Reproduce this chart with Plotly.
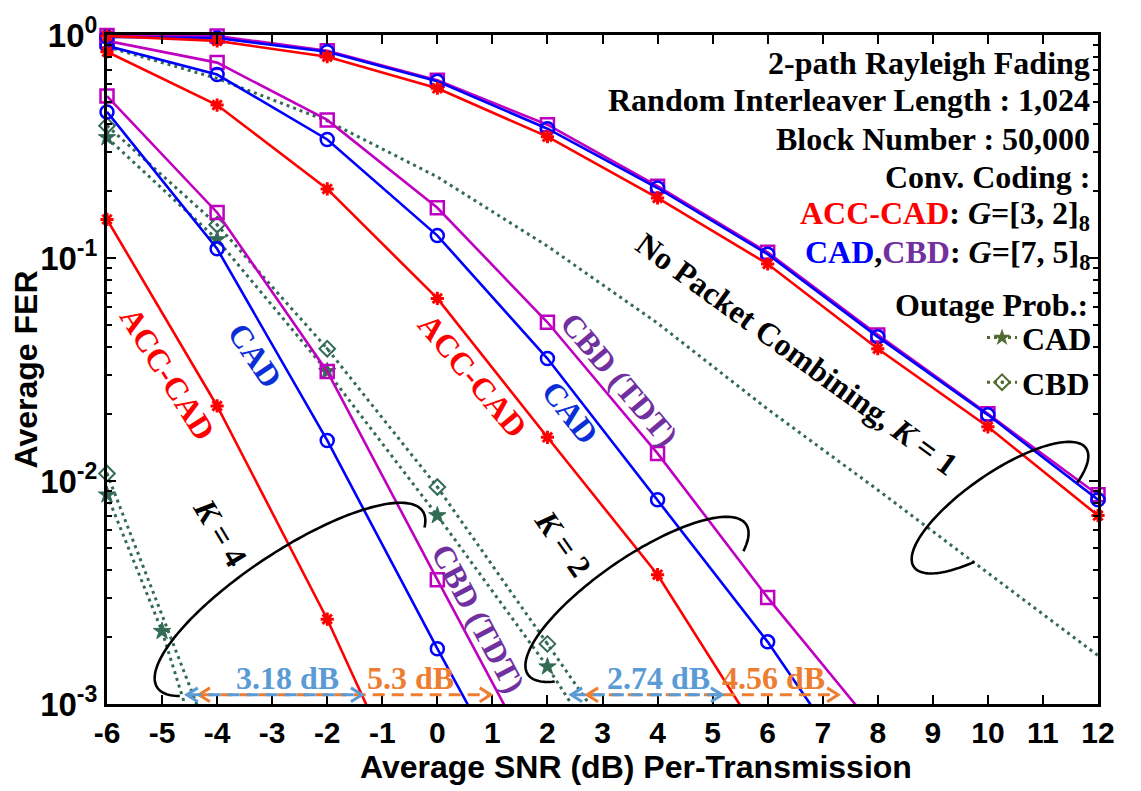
import numpy as np
import plotly.graph_objects as go

# ---------------- data ----------------
# K = 1 (no packet combining)
snr_k1 = [-6, -4, -2, 0, 2, 4, 6, 8, 10, 12]
fer_k1_acc = [0.990, 0.941, 0.799, 0.577, 0.350, 0.186, 0.094, 0.0392, 0.0175, 0.0070]
fer_k1_cad = [0.980, 0.970, 0.841, 0.620, 0.380, 0.206, 0.104, 0.0443, 0.0198, 0.00824]
fer_k1_cbd = [0.995, 0.990, 0.850, 0.626, 0.396, 0.210, 0.106, 0.0452, 0.0200, 0.00867]
out_k1 = [0.885, 0.639, 0.412, 0.231, 0.113, 0.0510, 0.0210, 0.00912, 0.00387, 0.00165]

# K = 2
snr_k2_acc = [-6, -4, -2, 0, 2, 4, 6]
fer_k2_acc = [0.841, 0.485, 0.204, 0.0659, 0.0157, 0.0038, 0.00063]
snr_k2 = [-6, -4, -2, 0, 2, 4, 6, 8]
fer_k2_cad = [0.894, 0.665, 0.340, 0.126, 0.0354, 0.00824, 0.0019, 0.00036]
fer_k2_cbd = [0.941, 0.752, 0.416, 0.168, 0.0515, 0.0133, 0.0030, 0.00075]
snr_k2_out = [-6, -4, -2, 0, 2, 4]
out_k2_cad = [0.347, 0.121, 0.0310, 0.0070, 0.00147, 0.00025]
out_k2_cbd = [0.392, 0.141, 0.0392, 0.0094, 0.00186, 0.00036]

# K = 4
snr_k4_acc = [-6, -4, -2, 0]
fer_k4_acc = [0.149, 0.0217, 0.0024, 0.00020]
snr_k4 = [-6, -4, -2, 0, 2]
fer_k4_cad = [0.452, 0.110, 0.0152, 0.00177, 0.00022]
fer_k4_cbd = [0.532, 0.160, 0.0310, 0.00361, 0.00043]
snr_k4_out_cad = [-6, -5, -4]
out_k4_cad = [0.00867, 0.00212, 0.00034]
snr_k4_out_cbd = [-6, -4]
out_k4_cbd = [0.0108, 0.00058]

# SNR gaps at FER ~ 1e-3
gap_labels = ["3.18 dB", "5.3 dB", "2.74 dB", "4.56 dB"]
gap_db = [3.18, 5.3, 2.74, 4.56]
gap_start = [-4.55, -4.33, 2.43, 2.72]
gap_fer = 1.1e-3

x_ticks = list(range(-6, 13))
x_ticktext = [str(v) for v in x_ticks]
y_ticks = [1e-3, 1e-2, 1e-1, 1]
y_ticktext = ["10<sup>-3</sup>", "10<sup>-2</sup>", "10<sup>-1</sup>", "10<sup>0</sup>"]

# ---------------- styling ----------------
RED = "#FF0000"
BLUE = "#0000FF"
PURPLE = "#C000C0"
GREEN = "#336B55"
OLIVE = "#4F6B2F"
TXT_PURPLE = "#7030A0"
TXT_BLUE = "#0A2FD6"
ARR_BLUE = "#5B9BD5"
ARR_ORANGE = "#ED7D31"
SERIF = "Liberation Serif"
SANS = "Liberation Sans"

W, H = 1141, 791
L, R, T, B = 107, 43, 26, 87
PW, PH = W - L - R, H - T - B
XMIN, XMAX = -6, 12


def px_to_paper(px, py):
    return (px - L) / PW, (H - B - py) / PH


fig = go.Figure()

STYLES = {
    "acc": dict(color=RED, symbol="asterisk-open", size=11, lw=3),
    "cad": dict(color=BLUE, symbol="circle-open", size=13, lw=2.5),
    "cbd": dict(color=PURPLE, symbol="square-open", size=13, lw=2.5),
    "ocad": dict(color=GREEN, symbol="star", size=13, lw=1),
    "ocbd": dict(color=GREEN, symbol="diamond-open-dot", size=12, lw=2),
}


def add_curve(x, y, kind, markers=True):
    st = STYLES[kind]
    x = np.asarray(x, dtype=float)
    y = np.asarray(y, dtype=float)
    outage = kind.startswith("o")
    fig.add_trace(go.Scatter(
        x=x, y=y, mode="lines", showlegend=False, hoverinfo="skip",
        line=dict(color=st["color"], width=3 if outage else 2.6,
                  dash="3px,4px" if outage else "solid"),
    ))
    if markers:
        m = y >= 1e-3
        fig.add_trace(go.Scatter(
            x=x[m], y=y[m], mode="markers", showlegend=False, hoverinfo="skip",
            cliponaxis=False,
            marker=dict(symbol=st["symbol"], size=st["size"], color=st["color"],
                        line=dict(color=st["color"], width=st["lw"])),
        ))


# outage probability curves
add_curve(snr_k1, out_k1, "ocad", markers=False)
add_curve(snr_k2_out, out_k2_cad, "ocad")
add_curve(snr_k2_out, out_k2_cbd, "ocbd")
add_curve(snr_k4_out_cad, out_k4_cad, "ocad")
add_curve(snr_k4_out_cbd, out_k4_cbd, "ocbd")

# FER curves
add_curve(snr_k4, fer_k4_cbd, "cbd")
add_curve(snr_k4, fer_k4_cad, "cad")
add_curve(snr_k4_acc, fer_k4_acc, "acc")
add_curve(snr_k2, fer_k2_cbd, "cbd")
add_curve(snr_k2, fer_k2_cad, "cad")
add_curve(snr_k2_acc, fer_k2_acc, "acc")
add_curve(snr_k1, fer_k1_cbd, "cbd")
add_curve(snr_k1, fer_k1_cad, "cad")
add_curve(snr_k1, fer_k1_acc, "acc")

# legend entries for the outage curves
fig.add_trace(go.Scatter(
    x=[None], y=[None], mode="lines+markers", name="CAD",
    line=dict(color=OLIVE, width=3, dash="3px,4px"),
    marker=dict(symbol="star", size=13, color=OLIVE),
))
fig.add_trace(go.Scatter(
    x=[None], y=[None], mode="lines+markers", name="CBD",
    line=dict(color=OLIVE, width=3, dash="3px,4px"),
    marker=dict(symbol="diamond-open-dot", size=12, color=OLIVE,
                line=dict(color=OLIVE, width=2)),
))

shapes = []


def ellipse_arc(cx, cy, a, b, ang, t0, t1, n=120):
    th = np.radians(ang)
    eu = np.array([np.cos(th), -np.sin(th)])
    ev = np.array([-np.sin(th), -np.cos(th)])
    ts = np.radians(np.linspace(t0, t1, n))
    pts = [np.array([cx, cy]) + a * np.cos(t) * eu + b * np.sin(t) * ev for t in ts]
    segs = []
    for i, p in enumerate(pts):
        xp, yp = px_to_paper(p[0], p[1])
        segs.append(("M" if i == 0 else "L") + f"{xp:.5f},{yp:.5f}")
    return " ".join(segs)


for cx, cy, a, b, ang, t0, t1 in [
    (290, 598, 160, 48, 34, -18, 204),
    (637, 598, 133, 42, 35, -30, 210),
    (1000, 505, 105, 35, 35, -42, 240),
]:
    shapes.append(dict(type="path", xref="paper", yref="paper",
                       path=ellipse_arc(cx, cy, a, b, ang, t0, t1),
                       line=dict(color="black", width=2.6)))

# SNR gap arrows
y_arr = (np.log10(gap_fer) + 3) / 3
head_dx = 11 / (PW / (XMAX - XMIN))
head_dy = 7 / PH
order = [1, 3, 0, 2]
for i in order:
    col = ARR_BLUE if i in (0, 2) else ARR_ORANGE
    x0 = gap_start[i]
    x1 = gap_start[i] + gap_db[i]
    shapes.append(dict(type="line", xref="x", yref="paper",
                       x0=x0 + 0.05, x1=x1 - 0.05, y0=y_arr, y1=y_arr,
                       line=dict(color=col, width=3, dash="12px,7px")))
    for tip, sgn in ((x0, 1), (x1, -1)):
        path = (f"M{tip + sgn * head_dx:.4f},{y_arr + head_dy:.5f} "
                f"L{tip:.4f},{y_arr:.5f} L{tip + sgn * head_dx:.4f},{y_arr - head_dy:.5f}")
        shapes.append(dict(type="path", xref="x", yref="paper", path=path,
                           line=dict(color=col, width=3)))

annotations = []


def note(text, px, py, size=32, color="black", angle=0, xanchor="center", family=SERIF):
    xp, yp = px_to_paper(px, py)
    annotations.append(dict(
        text=text, x=xp, y=yp, xref="paper", yref="paper", showarrow=False,
        xanchor=xanchor, yanchor="middle", textangle=angle,
        font=dict(family=family, size=size, color=color, weight="bold"),
    ))


# info block
info_x = 1092
note("2-path Rayleigh Fading", info_x, 54, xanchor="right")
note("Random Interleaver Length : 1,024", info_x, 92, xanchor="right")
note("Block Number : 50,000", info_x, 131, xanchor="right")
note("Conv. Coding :", info_x, 170, xanchor="right")
note(f'<span style="color:{RED}">ACC-CAD</span>: <i>G</i>=[3, 2]<sub>8</sub>',
     info_x, 209, xanchor="right")
note(f'<span style="color:{BLUE}">CAD</span>,<span style="color:{TXT_PURPLE}">CBD</span>'
     f': <i>G</i>=[7, 5]<sub>8</sub>', info_x, 248, xanchor="right")
note("Outage Prob.:", 1090, 300, xanchor="right")

# curve labels
note("ACC-CAD", 167, 369, color=RED, angle=58)
note("CAD", 255, 350, color=TXT_BLUE, angle=56)
note("ACC-CAD", 472, 371, color=RED, angle=50)
note("CAD", 570, 408, color=TXT_BLUE, angle=52)
note("CBD (TDT)", 619, 375, color=TXT_PURPLE, angle=50)
note("CBD (TDT)", 478, 617, color=TXT_PURPLE, angle=62)
note("<i>K</i> = 4", 220, 530, angle=59)
note("<i>K</i> = 2", 563, 541, angle=55)
note("No Packet Combining, <i>K</i> = 1", 797, 349, angle=36)

# gap labels
for i, (lbl, cx) in enumerate(zip(gap_labels, [287, 410, 658, 773])):
    note(lbl, cx, 678, color=ARR_BLUE if i in (0, 2) else ARR_ORANGE)

# axis titles
note("Average SNR (dB) Per-Transmission", 636, 768, family=SANS)
note("Average FER", 25, 365, angle=-90, family=SANS)

minor_vals = [m * 10.0 ** e for e in (-3, -2, -1) for m in range(2, 10)]

fig.update_layout(
    width=W, height=H,
    margin=dict(l=L, r=R, t=T, b=B),
    plot_bgcolor="white", paper_bgcolor="white",
    hovermode=False,
    shapes=shapes,
    annotations=annotations,
    showlegend=True,
    legend=dict(
        x=(1097 - L) / PW, xanchor="right",
        y=(H - B - 305) / PH, yanchor="top",
        bgcolor="rgba(0,0,0,0)", borderwidth=0,
        font=dict(family=SERIF, size=32, color="black", weight="bold"),
        tracegroupgap=0,
    ),
    xaxis=dict(
        range=[XMIN, XMAX], tickvals=x_ticks, ticktext=x_ticktext,
        ticks="inside", ticklen=9,
        tickwidth=2, tickcolor="black", showline=True, linewidth=3,
        linecolor="black", mirror="ticks", showgrid=False, zeroline=False,
        tickfont=dict(family=SANS, size=30, color="black", weight="bold"),
    ),
    yaxis=dict(
        type="log", range=[-3, 0], tickvals=y_ticks, ticktext=y_ticktext,
        ticks="inside", ticklen=9, tickwidth=2, tickcolor="black",
        showline=True, linewidth=3, linecolor="black", mirror="ticks",
        showgrid=False, zeroline=False,
        tickfont=dict(family=SANS, size=33, color="black", weight="bold"),
        minor=dict(tickvals=minor_vals, ticks="inside", ticklen=5,
                   tickwidth=2, tickcolor="black", showgrid=False),
    ),
)

fig.write_html("out.html")
